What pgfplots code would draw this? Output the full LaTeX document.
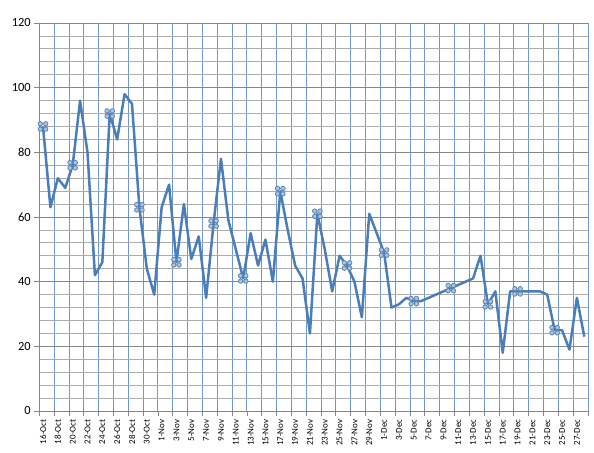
\documentclass[border=0pt]{standalone}
\usepackage{pgfplots}
\pgfplotsset{compat=1.18}
\usepackage{fontspec}
\setmainfont{Carlito}
\definecolor{linecol}{HTML}{4A7EBB}
\definecolor{vgrid}{HTML}{6E97CB}
\definecolor{hminor}{HTML}{ABABAB}
\definecolor{hmajor}{HTML}{878787}
\definecolor{mkfill}{HTML}{A9C6E2}
\definecolor{mkdraw}{HTML}{5B84AE}
\pgfdeclareplotmark{quadcirc}{%
  \pgfpathcircle{\pgfqpoint{-2.7bp}{2.7bp}}{2.2bp}%
  \pgfpathcircle{\pgfqpoint{2.7bp}{2.7bp}}{2.2bp}%
  \pgfpathcircle{\pgfqpoint{-2.7bp}{-2.7bp}}{2.2bp}%
  \pgfpathcircle{\pgfqpoint{2.7bp}{-2.7bp}}{2.2bp}%
  \pgfusepathqfillstroke}
\begin{document}
\begin{tikzpicture}
\path[use as bounding box] (-39.3bp,-42bp) rectangle (554.7bp,411bp);
\begin{axis}[
  at={(0,0)}, anchor=south west,
  scale only axis, width=548.7bp, height=388bp,
  xmin=-0.5, xmax=73.5, ymin=0, ymax=120,
  axis x line*=bottom, axis y line*=left,
  axis line style={hmajor, line width=0.8bp, -},
  tick align=outside,
  major tick length=5bp, minor tick length=5bp,
  ytick={0,20,...,120},
  minor ytick={4,8,12,16,24,28,32,36,44,48,52,56,64,68,72,76,84,88,92,96,104,108,112,116},
  minor y tick style={draw=none},
  ymajorgrids, yminorgrids,
  major y grid style={hmajor, line width=0.8bp},
  minor y grid style={hminor, line width=0.8bp},
  y tick style={hmajor, line width=0.8bp},
  xtick={0,2,...,72},
  major x tick style={draw=none},
  minor xtick={-0.5,1.5,...,73.5},
  xminorgrids,
  minor x grid style={vgrid, line width=0.9bp},
  minor x tick style={hmajor, line width=0.8bp},
  xticklabels={16-Oct,18-Oct,20-Oct,22-Oct,24-Oct,26-Oct,28-Oct,30-Oct,1-Nov,3-Nov,5-Nov,7-Nov,9-Nov,11-Nov,13-Nov,15-Nov,17-Nov,19-Nov,21-Nov,23-Nov,25-Nov,27-Nov,29-Nov,1-Dec,3-Dec,5-Dec,7-Dec,9-Dec,11-Dec,13-Dec,15-Dec,17-Dec,19-Dec,21-Dec,23-Dec,25-Dec,27-Dec},
  xticklabel style={rotate=90, anchor=east, font=\fontsize{9}{10}\selectfont},
  yticklabel style={font=\fontsize{12.5}{14}\selectfont},
  /pgf/number format/assume math mode=true,
  clip=false,
]
\addplot[linecol, line width=2.5bp, line join=round,
  mark=quadcirc, mark indices={1,5,10,14,19,24,28,33,38,42,47,51,56,61,65,70},
  mark options={fill=mkfill, draw=mkdraw, line width=0.8bp, solid}]
table[x=i, y=v] {
i v
0 88
1 63
2 72
3 69
4 76
5 96
6 80
7 42
8 46
9 92
10 84
11 98
12 95
13 63
14 44
15 36
16 63
17 70
18 46
19 64
20 47
21 54
22 35
23 58
24 78
25 59
26 50
27 41
28 55
29 45
30 53
31 40
32 68
33 56
34 45
35 41
36 24
37 61
38 50
39 37
40 48
41 45
42 40
43 29
44 61
45 55
46 49
47 32
48 33
49 35
50 34
51 34
52 35
53 36
54 37
55 38
56 39
57 40
58 41
59 48
60 33
61 37
62 18
63 37
64 37
65 37
66 37
67 37
68 36
69 25
70 25
71 19
72 35
73 23
};
\end{axis}
\end{tikzpicture}
\end{document}
